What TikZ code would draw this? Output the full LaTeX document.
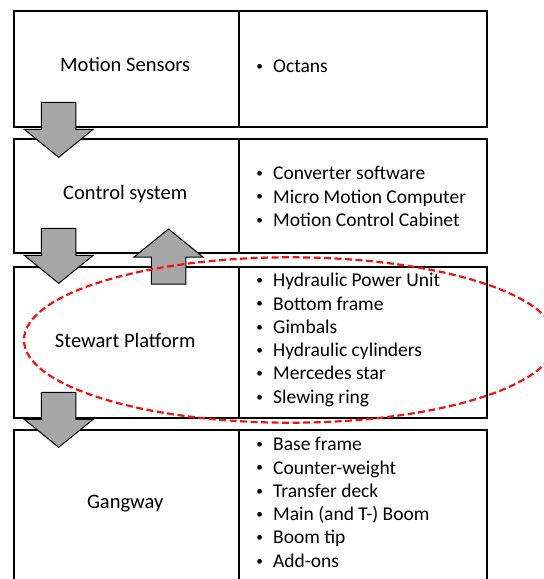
\documentclass[tikz,border=0pt]{standalone}
\usepackage{fontspec}
\setmainfont{Carlito}
\definecolor{arrowgray}{HTML}{A6A6A6}
\definecolor{ringred}{HTML}{F81010}
\tikzset{
  cell/.style={draw=black, line width=1.8pt, anchor=north west, inner sep=0pt},
  label/.style={anchor=base, inner sep=0pt, font=\fontsize{20.5pt}{24pt}\selectfont},
  item/.style={anchor=base west, inner sep=0pt, font=\fontsize{19.5pt}{23.3pt}\selectfont},
  arrowstyle/.style={draw=black, fill=arrowgray, line width=1pt, line join=miter},
  ring/.style={draw=ringred, line width=2.2pt, dash pattern=on 7pt off 3.5pt},
  blockarrow/.pic={
    \draw[arrowstyle] (0,0) -- (-34.5,-28) -- (-17.25,-28) -- (-17.25,-55)
      -- (17.25,-55) -- (17.25,-28) -- (34.5,-28) -- cycle;
  }
}
% small bullet, centred on the current point, text 13.5pt to the right
\newcommand{\bul}[1]{\makebox[0pt][c]{\raisebox{2.2pt}{\scalebox{0.68}{\textbullet}}}\hspace{13.5pt}#1}
\begin{document}
\begin{tikzpicture}[x=1pt, y=-1pt]
  \useasboundingbox (0,0) rectangle (544,579);
  \clip (0,0) rectangle (544,579);

  % left column cells
  \node[cell, minimum width=225pt, minimum height=115.4pt] (ms) at (12.7,10.3) {};
  \node[cell, minimum width=225pt, minimum height=114.6pt] (cs) at (12.7,137.7) {};
  \node[cell, minimum width=225pt, minimum height=151.6pt] (sp) at (12.7,265.7) {};
  \node[cell, minimum width=225pt, minimum height=170pt]   (gw) at (12.7,429.3) {};

  % right column cells
  \node[cell, minimum width=248.6pt, minimum height=115.4pt] (msr) at (237.7,10.3) {};
  \node[cell, minimum width=248.6pt, minimum height=114.6pt] (csr) at (237.7,137.7) {};
  \node[cell, minimum width=248.6pt, minimum height=151.6pt] (spr) at (237.7,265.7) {};
  \node[cell, minimum width=248.6pt, minimum height=170pt]   (gwr) at (237.7,429.3) {};

  % stage names
  \node[label] (msl) at (125.2,71)    {Motion Sensors};
  \node[label] (csl) at (125.2,199)   {Control system};
  \node[label] (spl) at (125.2,347.3) {Stewart Platform};
  \node[label] (gwl) at (125.2,508.3) {Gangway};

  % component lists
  \node[item] (ms-0) at (259.5,72.7) {\bul{Octans}};
  \foreach \t [count=\i from 0] in {Converter software, Micro Motion Computer, Motion Control Cabinet}
    \node[item] (cs-\i) at (259.5,179.7+23.3*\i) {\bul{\t}};
  \foreach \t [count=\i from 0] in {Hydraulic Power Unit, Bottom frame, Gimbals, Hydraulic cylinders, Mercedes star, Slewing ring}
    \node[item] (sp-\i) at (259.5,286.7+23.3*\i) {\bul{\t}};
  \foreach \t [count=\i from 0] in {Base frame, Counter-weight, Transfer deck, Main (and T-) Boom, Boom tip, Add-ons}
    \node[item] (gw-\i) at (259.5,450.7+23.3*\i) {\bul{\t}};

  % flow arrows between the stages
  \coordinate (tip1) at (58.7,157.3);
  \coordinate (tip2) at (58.7,283.3);
  \coordinate (tip3) at (58.7,447.3);
  \coordinate (tipup) at (168.5,229);
  \pic at (tip1) {blockarrow};
  \pic at (tip2) {blockarrow};
  \pic at (tip3) {blockarrow};
  \pic[rotate=180] at (tipup) {blockarrow};

  % highlight ring around the platform stage
  \draw[ring] (290,340) ellipse [x radius=266, y radius=82.7];
\end{tikzpicture}
\end{document}
